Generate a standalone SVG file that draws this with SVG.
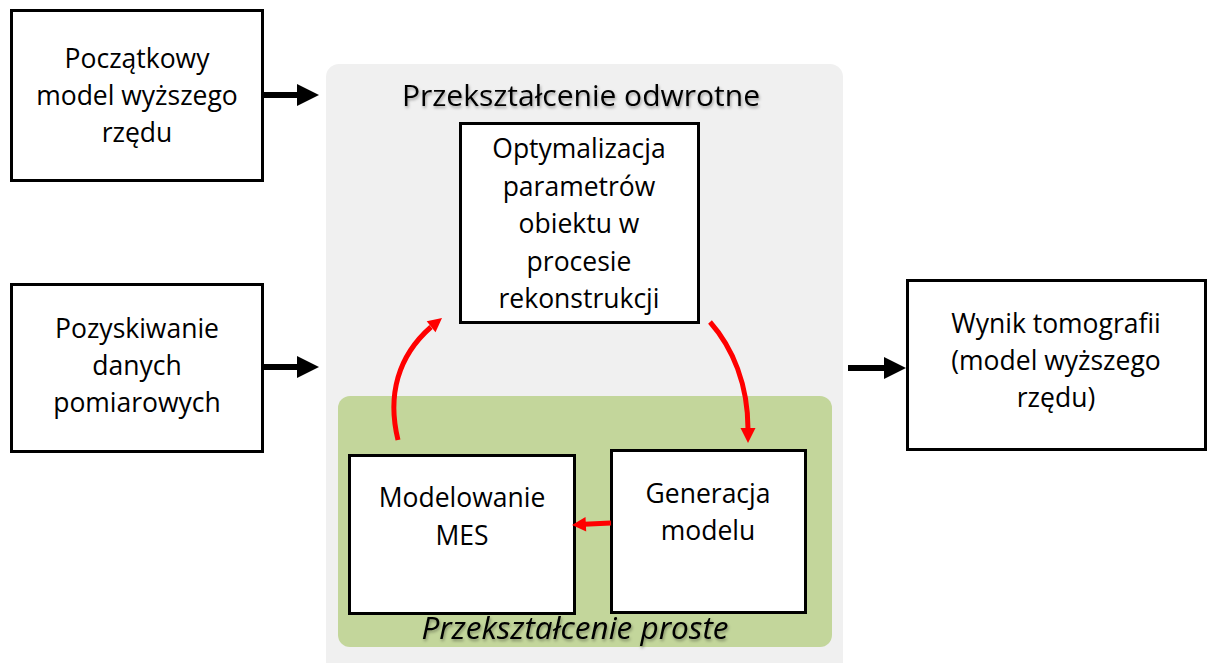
<svg xmlns="http://www.w3.org/2000/svg" width="1208" height="663" viewBox="0 0 1208 663">
  <defs>
    <style>
      .box { fill: #ffffff; stroke: #000000; stroke-width: 3; }
      .lbl { font-family: "Open Sans", "Liberation Sans", sans-serif; font-size: 26.5px; fill: #000000; text-anchor: middle; }
      .title { font-family: "Open Sans", "Liberation Sans", sans-serif; font-size: 30px; fill: #000000; text-anchor: middle; }
      .subtitle { font-family: "Open Sans", "Liberation Sans", sans-serif; font-size: 31.5px; font-style: italic; fill: #000000; text-anchor: middle; }
      .flow { fill: none; stroke: #000000; stroke-width: 6; }
      .flowhead { fill: #000000; }
      .loop { fill: none; stroke: #ff0000; stroke-width: 5; }
      .loophead { fill: #ff0000; }
    </style>
    <filter id="soft" x="-10%" y="-30%" width="120%" height="160%">
      <feDropShadow dx="1" dy="2" stdDeviation="1.5" flood-color="#000000" flood-opacity="0.35"/>
    </filter>
  </defs>

  <!-- background panels -->
  <rect id="panel-inverse" x="326" y="64" width="517" height="612" rx="13" fill="#f0f0f0"/>
  <text class="title" x="581" y="106" filter="url(#soft)">Przekształcenie odwrotne</text>
  <rect id="panel-forward" x="338" y="396" width="494" height="251" rx="12" fill="#c3d69b"/>
  <text class="subtitle" x="575" y="639" filter="url(#soft)">Przekształcenie proste</text>

  <!-- nodes -->
  <g id="initial-model">
    <rect class="box" x="11.5" y="10.5" width="251" height="170"/>
    <text class="lbl" x="137" y="68">Początkowy</text>
    <text class="lbl" x="137" y="105">model wyższego</text>
    <text class="lbl" x="137" y="142">rzędu</text>
  </g>
  <g id="data-acquisition">
    <rect class="box" x="11.5" y="284.5" width="251" height="167"/>
    <text class="lbl" x="137" y="338">Pozyskiwanie</text>
    <text class="lbl" x="137" y="375">danych</text>
    <text class="lbl" x="137" y="412">pomiarowych</text>
  </g>
  <g id="optimization">
    <rect class="box" x="460.5" y="123.5" width="238" height="199"/>
    <text class="lbl" x="579" y="158">Optymalizacja</text>
    <text class="lbl" x="579" y="195.5">parametrów</text>
    <text class="lbl" x="579" y="233">obiektu w</text>
    <text class="lbl" x="579" y="270.5">procesie</text>
    <text class="lbl" x="579" y="308">rekonstrukcji</text>
  </g>
  <g id="fem-modelling">
    <rect class="box" x="349.5" y="455.5" width="225" height="158"/>
    <text class="lbl" x="462" y="507">Modelowanie</text>
    <text class="lbl" x="462" y="545">MES</text>
  </g>
  <g id="model-generation">
    <rect class="box" x="611.5" y="450.5" width="194" height="162"/>
    <text class="lbl" x="708" y="503">Generacja</text>
    <text class="lbl" x="708" y="540">modelu</text>
  </g>
  <g id="result">
    <rect class="box" x="907.5" y="280.5" width="298" height="169"/>
    <text class="lbl" x="1056" y="333">Wynik tomografii</text>
    <text class="lbl" x="1056" y="370">(model wyższego</text>
    <text class="lbl" x="1056" y="407">rzędu)</text>
  </g>

  <!-- connectors -->
  <g id="connectors">
    <line class="flow" x1="264" y1="95" x2="299" y2="95"/>
    <polygon class="flowhead" points="297,84 319,95 297,106"/>
    <line class="flow" x1="264" y1="367" x2="299" y2="367"/>
    <polygon class="flowhead" points="297,356 319,367 297,378"/>
    <line class="flow" x1="848" y1="368" x2="886" y2="368"/>
    <polygon class="flowhead" points="884,357 906,368 884,379"/>

    <path class="loop" d="M398,440 C387,395 398,356 431,327"/>
    <polygon class="loophead" points="442,318 435.5,332.3 426.7,321.3"/>
    <path class="loop" d="M710,322 C733,348 748,385 748,429"/>
    <polygon class="loophead" points="740.5,428 755.5,428 748,443"/>
    <line class="loop" x1="611" y1="523" x2="584" y2="524.3"/>
    <polygon class="loophead" points="585.5,517 586.2,531.5 572,525"/>
  </g>
</svg>
